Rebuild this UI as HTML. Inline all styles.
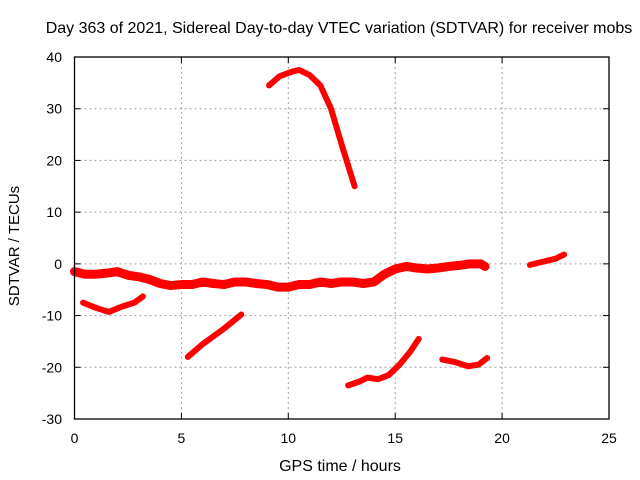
<!DOCTYPE html>
<html><head><meta charset="utf-8"><style>
body{margin:0;background:#fff;}
svg{display:block;font-family:"Liberation Sans",sans-serif;}
</style></head><body>
<svg id="chart" width="640" height="480" viewBox="0 0 640 480">
<text x="339" y="33" font-size="16" text-anchor="middle" fill="#000">Day 363 of 2021, Sidereal Day-to-day VTEC variation (SDTVAR) for receiver mobs</text>
<g id="grid"></g>
<g id="series"></g>
<g id="axes"></g>
<text x="340" y="471" font-size="16" text-anchor="middle">GPS time / hours</text>
<text transform="translate(19,246) rotate(-90)" font-size="15" text-anchor="middle">SDTVAR / TECUs</text>
</svg>
<script>
const xTicks=[0,5,10,15,20,25];
const yTicks=[-30,-20,-10,0,10,20,30,40];
const seg1=[[0,-1.5],[0.5,-2],[1,-2],[1.5,-1.8],[2,-1.5],[2.5,-2.2],[3,-2.5],[3.5,-3],[4,-3.8],[4.5,-4.2],[5,-4],[5.5,-4],[6,-3.5],[6.5,-3.8],[7,-4],[7.5,-3.5],[8,-3.5],[8.5,-3.8],[9,-4],[9.5,-4.5],[10,-4.5],[10.5,-4],[11,-4],[11.5,-3.5],[12,-3.8],[12.5,-3.5],[13,-3.5],[13.5,-3.8],[14,-3.5],[14.5,-2],[15,-1],[15.5,-0.5],[16,-0.8],[16.5,-1],[17,-0.8],[17.5,-0.5],[18,-0.3],[18.5,0],[19,0],[19.2,-0.5]];
const seg2=[[0.4,-7.5],[1,-8.5],[1.6,-9.3],[2.2,-8.3],[2.8,-7.5],[3.2,-6.3]];
const seg3=[[5.3,-18],[6,-15.5],[7,-12.5],[7.8,-9.8]];
const seg4=[[9.1,34.5],[9.6,36.3],[10.2,37.2],[10.5,37.5],[11,36.5],[11.5,34.5],[12,30],[12.5,23],[13.1,15]];
const seg5=[[12.8,-23.5],[13.3,-22.8],[13.7,-22],[14.2,-22.3],[14.7,-21.5],[15.2,-19.5],[15.7,-17],[16.1,-14.5]];
const seg6=[[17.2,-18.5],[17.8,-19],[18.4,-19.8],[18.9,-19.5],[19.3,-18.2]];
const seg7=[[21.3,-0.2],[22,0.5],[22.5,1],[22.9,1.8]];
const segs=[seg1,seg2,seg3,seg4,seg5,seg6,seg7];

const X0=74.5,X1=609,Y0=419,Y1=57;
const xs=v=>X0+(v-0)/25*(X1-X0);
const ys=v=>Y0-(v+30)/70*(Y0-Y1);
const NS="http://www.w3.org/2000/svg";
function mk(t,a,p){const e=document.createElementNS(NS,t);for(const k in a)e.setAttribute(k,a[k]);p.appendChild(e);return e;}
const grid=document.getElementById('grid'),axes=document.getElementById('axes'),ser=document.getElementById('series');
xTicks.forEach(t=>{
  const x=xs(t);
  if(t>0&&t<25){const g=mk('line',{x1:x,x2:x,y1:Y1,y2:Y0,stroke:'#a0a0a0','stroke-dasharray':'2,3'},grid);
  
  }
  mk('line',{x1:x,x2:x,y1:Y0,y2:Y0-6,stroke:'#000'},axes);
  mk('line',{x1:x,x2:x,y1:Y1,y2:Y1+6,stroke:'#000'},axes);
  const l=mk('text',{x:x,y:443,'font-size':14,'text-anchor':'middle'},axes);l.textContent=t;
  
  
});
yTicks.forEach(t=>{
  const y=ys(t);
  if(t>-30&&t<40){const g=mk('line',{x1:X0,x2:X1,y1:y,y2:y,stroke:'#a0a0a0','stroke-dasharray':'2,3'},grid);
  
  }
  mk('line',{x1:X0,x2:X0+6,y1:y,y2:y,stroke:'#000'},axes);
  mk('line',{x1:X1,x2:X1-6,y1:y,y2:y,stroke:'#000'},axes);
  const l=mk('text',{x:62,y:y+5,'font-size':14,'text-anchor':'end'},axes);l.textContent=t;
  
  
});
const fr=mk('rect',{x:X0,y:Y1,width:X1-X0,height:Y0-Y1,fill:'none',stroke:'#000','stroke-width':1.3},axes);


segs.forEach((s,i)=>{
  const p=mk('polyline',{points:s.map(d=>xs(d[0])+','+ys(d[1])).join(' '),fill:'none',stroke:'#ff0000','stroke-width':i===0?9:6,'stroke-linejoin':'round','stroke-linecap':'round'},ser);
  
  
});
</script>
</body></html>
